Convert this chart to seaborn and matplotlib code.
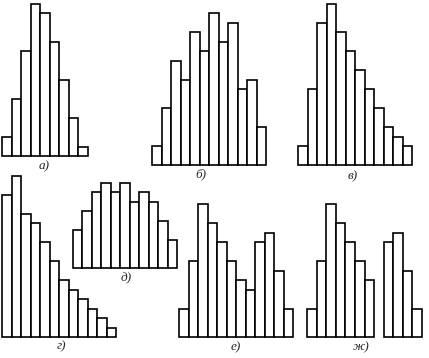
import numpy as np
import pandas as pd
import matplotlib
matplotlib.use("Agg")
import matplotlib.pyplot as plt
import seaborn as sns

# частоты по интервалам, каждая гистограмма отдельно
counts_a = [2, 6, 11, 16, 15, 12, 8, 4, 1]
counts_b = [2, 6, 11, 9, 14, 12, 16, 13, 15, 8, 9, 4]
counts_v = [2, 8, 15, 17, 14, 12, 10, 8, 6, 4, 3, 2]
counts_g = [15, 17, 13, 12, 10, 8, 6, 5, 4, 3, 2, 1]
counts_d = [4, 6, 8, 9, 8, 9, 7, 8, 7, 5, 3]
counts_e = [3, 8, 14, 12, 10, 8, 6, 5, 10, 11, 7, 3]
counts_zh = [3, 8, 14, 12, 10, 8, 6, np.nan, 10, 11, 7, 3]  # пропуск в середине

labels = ["а)", "б)", "в)", "г)", "д)", "е)", "ж)"]

sns.set_style("white")

W, H = 429, 358
unit = 9.5      # пикселей на единицу частоты
ymax = 17

fig = plt.figure(figsize=(W / 100, H / 100), dpi=100)


def add_hist(counts, left, right, base, label, lx, ly):
    ax = fig.add_axes([left / W, 1 - base / H, (right - left) / W, ymax * unit / H])
    n = len(counts)
    df = pd.DataFrame({"bin": list(range(n)), "n": counts}).dropna()
    sns.barplot(data=df, x="bin", y="n", order=list(range(n)), width=1,
                color="white", saturation=1, edgecolor="black", linewidth=1.2,
                errorbar=None, ax=ax)
    for p in ax.patches:
        p.set_clip_on(False)
    ax.set_xlim(-0.5, n - 0.5)
    ax.set_ylim(0, ymax)
    ax.patch.set_alpha(0)
    ax.axis("off")
    fig.text(lx / W, 1 - ly / H, label, ha="center", va="center", fontsize=9.5,
             style="italic", family=["Liberation Serif", "DejaVu Serif"])


add_hist(counts_a, 2, 88, 156, labels[0], 44, 166)
add_hist(counts_b, 152, 266, 165, labels[1], 201, 174)
add_hist(counts_v, 298, 412, 165, labels[2], 353, 176)
add_hist(counts_g, 2, 116, 337, labels[3], 61, 346)
add_hist(counts_d, 73, 177, 268, labels[4], 126, 278)
add_hist(counts_e, 179, 293, 337, labels[5], 236, 347)
add_hist(counts_zh, 307, 422, 337, labels[6], 361, 347)

fig.savefig("out.png", dpi=100)
